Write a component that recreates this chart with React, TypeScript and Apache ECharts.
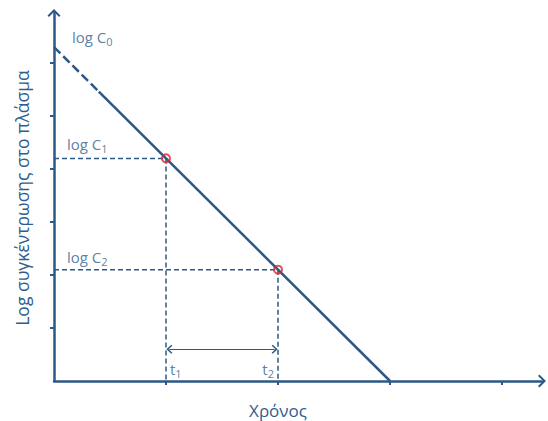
import React, { useEffect, useRef } from "react";
import * as echarts from "echarts";

// ---- data ----
const xTicks = [1, 2, 3, 4];
const yTicks = [1, 2, 3, 4, 5, 6];
const xMax = 4.357;
const yMax = 6.943;
const lineDashed = [[0, 6.3], [0.4, 5.46]];
const lineSolid = [[0.4, 5.46], [3, 0]];
const measuredPoints = [[1, 4.2], [2, 2.1]];
const guide1 = [[0, 4.2], [1, 4.2], [1, 0]];
const guide2 = [[0, 2.1], [2, 2.1], [2, 0]];
const intervalArrow = [[1.03, 0.6], [1.97, 0.6]];
const concMain = ["log C", "log C", "log C"];
const concSub = ["0", "1", "2"];
const concValues = [6.3, 4.2, 2.1];
const timeMain = ["t", "t"];
const timeSub = ["1", "2"];
const timeValues = [1, 2];
const xName = "Χρόνος";
const yName = "Log συγκέντρωσης στο πλάσμα";

const BLUE = "#2B5886";
const TEXT = "#2F5E8E";
const RED = "#D9262B";
const FONT = "'Open Sans', 'DejaVu Sans', sans-serif";
const CHEVRON = "path://M5,0 L10,5 L8.9,6.1 L5,2.2 L1.1,6.1 L0,5 Z";

const rich = {
  m: { fontSize: 15, lineHeight: 20, verticalAlign: "middle", color: TEXT, fontFamily: FONT },
  s: { fontSize: 11, lineHeight: 11, verticalAlign: "bottom", color: TEXT, fontFamily: FONT },
};

export default function App() {
  const ref = useRef<HTMLDivElement>(null);
  useEffect(() => {
    if (!ref.current) return;
    const chart = echarts.init(ref.current, null, { renderer: "svg" });
    const concOffsets = [[18, -10], [13, -14], [13, -13]];
    const timeOffsets = [[4, -12], [-4, -12]];
    const axisCommon = {
      type: "value",
      min: 0,
      axisLabel: { show: false },
      splitLine: { show: false },
    };
    chart.setOption({
      animation: false,
      grid: { left: 54, right: 6, top: 13, bottom: 40 },
      xAxis: {
        ...axisCommon,
        max: xMax,
        axisLine: {
          show: true,
          symbol: ["none", CHEVRON],
          symbolSize: [13, 10],
          lineStyle: { color: BLUE, width: 2.5 },
        },
        axisTick: {
          show: true,
          customValues: xTicks,
          length: 4,
          lineStyle: { color: BLUE, width: 2 },
        },
      },
      yAxis: {
        ...axisCommon,
        max: yMax,
        axisLine: {
          show: true,
          symbol: ["none", CHEVRON],
          symbolSize: [13, 10],
          lineStyle: { color: BLUE, width: 2.5 },
        },
        axisTick: {
          show: true,
          customValues: yTicks,
          length: 4,
          lineStyle: { color: BLUE, width: 2 },
        },
      },
      series: [
        {
          type: "line",
          data: guide1,
          symbol: "none",
          clip: false,
          lineStyle: { color: BLUE, width: 1.5, type: [5, 3] },
        },
        {
          type: "line",
          data: guide2,
          symbol: "none",
          clip: false,
          lineStyle: { color: BLUE, width: 1.5, type: [5, 3] },
        },
        {
          type: "line",
          data: lineDashed,
          symbol: "none",
          clip: false,
          lineStyle: { color: BLUE, width: 2.5, type: [9, 4] },
        },
        {
          type: "line",
          data: lineSolid,
          symbol: "none",
          clip: false,
          lineStyle: { color: BLUE, width: 2.5 },
          markLine: {
            silent: true,
            symbol: [CHEVRON, CHEVRON],
            symbolSize: [9, 6],
            label: { show: false },
            lineStyle: { color: BLUE, width: 1.2, type: "solid" },
            data: [[{ coord: intervalArrow[0] }, { coord: intervalArrow[1] }]],
          },
        },
        {
          type: "scatter",
          data: measuredPoints,
          symbol: "circle",
          symbolSize: 8,
          z: 5,
          itemStyle: { color: "rgba(0,0,0,0)", borderColor: RED, borderWidth: 2 },
        },
        {
          type: "scatter",
          symbolSize: 0,
          silent: true,
          data: concMain.map((t, i) => ({
            value: [0, concValues[i]],
            label: {
              show: true,
              position: "right",
              distance: 0,
              offset: concOffsets[i],
              formatter: `{m|${t}}{s|${concSub[i]}}`,
              rich,
            },
          })),
        },
        {
          type: "scatter",
          symbolSize: 0,
          silent: true,
          data: timeMain.map((t, i) => ({
            value: [timeValues[i], 0],
            label: {
              show: true,
              position: i === 0 ? "right" : "left",
              distance: 0,
              offset: timeOffsets[i],
              formatter: `{m|${t}}{s|${timeSub[i]}}`,
              rich,
            },
          })),
        },
      ],
      graphic: [
        {
          type: "text",
          x: 278,
          y: 410,
          style: {
            text: xName,
            fill: TEXT,
            fontSize: 17,
            fontFamily: FONT,
            align: "center",
            verticalAlign: "middle",
          },
        },
        {
          type: "text",
          x: 22,
          y: 198,
          rotation: Math.PI / 2,
          style: {
            text: yName,
            fill: TEXT,
            fontSize: 17.5,
            fontFamily: FONT,
            align: "center",
            verticalAlign: "middle",
          },
        },
      ],
    });
    return () => chart.dispose();
  }, []);
  return (
    <div
      ref={ref}
      style={{ position: "fixed", left: 0, top: 0, width: 548, height: 421, background: "#fff" }}
    />
  );
}
